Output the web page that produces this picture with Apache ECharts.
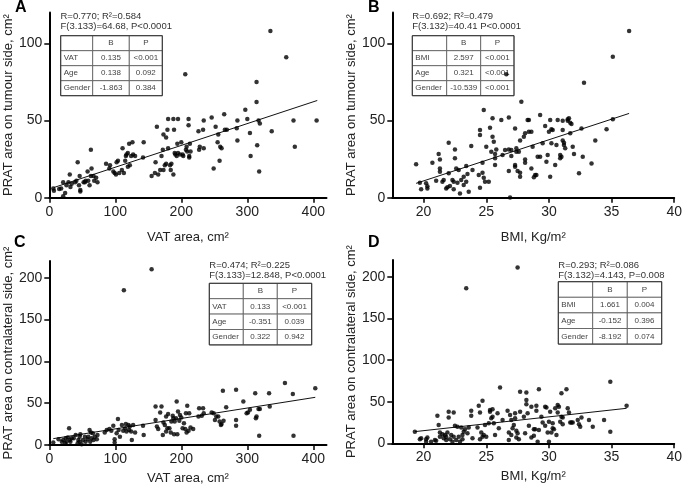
<!DOCTYPE html>
<html>
<head>
<meta charset="utf-8">
<script src="https://cdn.jsdelivr.net/npm/echarts@6/dist/echarts.min.js"></script>
<style>html,body{margin:0;padding:0;background:#fff}#c{width:685px;height:491px}</style>
</head>
<body>
<div id="c"></div>
<script>
// ---------- DATA ----------
const vatTicks = [0, 100, 200, 300, 400];
const bmiTicks = [20, 25, 30, 35, 40];
const yTicksTop = [0, 50, 100];
const yTicksBottom = [0, 50, 100, 150, 200];

// Panel A: VAT area vs PRAT tumour side
const pointsA = [[6,6],[7,4.5],[15,5.6],[18,6],[21,10],[21,1],[24,3],[26,8],[29,10],[31,15],[32,7],[34,9],[39,10],[43,23],[41,11],[45,8],[46,14],[47,5],[47,4],[52,10],[54,10],[55,11],[58,17],[59,11],[61,8],[63,31],[63,14],[64,19],[67,14],[68,11],[73,10],[71,13],[86,22],[92,21],[91,19],[97,17],[99,16],[101,15],[102,23],[104,24],[106,16],[110,18],[111,32],[113,16],[115,24],[116,27],[117,28],[119,29],[119,20],[121,35],[122,21],[124,27],[126,36],[127,28],[130,27],[143,36],[142,26],[155,14],[160,16],[161,23],[163,46],[165,15],[168,18],[170,27],[172,31],[173,41],[173,18],[175,21],[177,22],[177,39],[179,44],[180,51],[180,32],[183,21],[184,18],[185,22],[188,51],[188,15],[189,44],[190,29],[191,28],[193,27],[194,35],[195,51],[195,29],[198,28],[200,36],[202,28],[203,27],[206,80],[207,31],[208,33],[209,30],[211,47],[211,51],[212,27],[212,26],[213,35],[214,30],[226,43],[227,31],[228,33],[233,44],[234,50],[234,32],[246,52],[249,19],[252,46],[255,36],[256,41],[258,24],[259,33],[261,32],[265,54],[266,44],[269,44],[284,45],[285,50],[285,37],[297,57],[300,51],[304,42],[305,27],[314,75],[314,62],[315,34],[317,50],[318,17],[319,48],[335,108],[337,43],[359,91],[370,50],[372,33],[405,50]];
const fitA = [[7, 6.6], [406, 63]];

// Panel B: BMI vs PRAT tumour side
const pointsB = [[19.4,21.6],[19.7,9.7],[19.8,5.4],[20.2,9.3],[20.3,6],[20.3,7.5],[20.7,22.7],[21.0,11],[21.2,28.3],[21.3,19],[21.3,24.8],[21.3,16.8],[21.5,10.4],[21.6,11.4],[21.8,6],[21.9,6.7],[22.0,15.8],[22.0,35.6],[22.1,7.6],[22.3,11.4],[22.4,10.4],[22.4,5.4],[22.5,31.3],[22.5,25.5],[22.6,19],[22.7,9.7],[22.8,18],[22.9,2.8],[23.0,11.4],[23.2,8.2],[23.2,13.6],[23.4,20.5],[23.4,10.4],[23.5,15.3],[23.6,3.9],[23.8,33.5],[23.9,18],[24.4,14.7],[24.5,6.5],[24.5,40.6],[24.5,43.8],[24.7,16.2],[24.7,22.7],[24.8,56.8],[24.8,13],[24.9,10.4],[25.0,33],[25.2,10.4],[25.3,45.4],[25.4,29.8],[25.5,51.4],[25.5,39.5],[25.6,36.3],[25.7,28.3],[25.7,21.2],[25.7,25.5],[25.8,31.3],[26.2,50.3],[26.3,27.6],[26.5,30.9],[26.6,80],[26.8,52],[26.8,17.3],[26.8,31.3],[26.9,0.2],[27.0,27],[27.0,30.9],[27.3,44.9],[27.3,20],[27.3,21.2],[27.4,32],[27.4,29.8],[27.5,17.3],[27.6,29.8],[27.7,16.2],[27.7,13.6],[27.8,62.2],[27.7,37],[28.0,39.5],[28.1,24.8],[28.1,22.7],[28.1,41.7],[28.3,50.3],[28.4,50.3],[28.4,42.8],[28.6,42.8],[28.6,19],[28.7,33],[28.8,13.2],[28.9,14.7],[29.0,14.7],[29.1,26.6],[29.3,26.6],[29.3,53.6],[29.5,35.2],[29.7,46.4],[29.8,23.3],[29.9,27.6],[30.0,42.8],[30.1,13.6],[30.1,50.3],[30.2,44.3],[30.2,35.2],[30.3,43.8],[30.5,21.2],[30.6,34.1],[30.7,50.3],[30.9,27.6],[30.9,25.5],[31.0,26.6],[31.1,49.9],[31.1,43.8],[31.1,37],[31.2,35.6],[31.2,34.1],[31.3,32],[31.5,49.9],[31.5,50.8],[31.6,51.4],[31.7,48.6],[31.7,41.7],[31.8,47.7],[31.9,33],[32.0,28.3],[32.4,15.8],[32.6,44.9],[32.7,26.6],[32.8,74.5],[33.4,22.2],[33.7,37],[34.6,44.3],[35.1,50.8],[35.1,91.4],[36.4,108]];
const fitB = [[19.4, 9.3], [36.4, 54.6]];

// Panel C: VAT area vs PRAT contralateral side
const pointsC = [[6,3],[14,7],[19,4],[21,6],[24,2],[25,8],[26,4],[28,9],[30,20],[31,6],[32,4],[34,8],[37,8],[40,12],[43,2],[44,6],[46,10],[46,4],[47,13],[49,1],[51,6],[54,10],[55,4],[58,7],[59,10],[61,18],[62,4],[63,15],[64,8],[66,14],[67,6],[69,10],[72,7],[73,12],[84,15],[87,18],[91,19],[94,17],[97,23],[99,7],[99,3],[102,14],[104,31],[105,18],[107,10],[110,24],[112,17],[113,185],[115,20],[116,25],[117,16],[120,24],[121,18],[122,22],[124,16],[125,6],[127,24],[130,15],[142,23],[143,12],[155,210],[161,46],[161,30],[163,22],[165,19],[168,39],[170,46],[172,12],[173,27],[175,24],[177,16],[177,34],[179,20],[180,37],[182,20],[184,15],[185,28],[187,35],[188,32],[189,13],[190,28],[192,32],[193,52],[194,13],[195,40],[197,29],[198,36],[200,33],[202,20],[204,26],[206,19],[207,38],[208,15],[209,47],[211,17],[212,38],[214,21],[218,19],[226,34],[227,44],[231,35],[233,44],[234,38],[246,39],[249,38],[251,30],[253,34],[256,34],[258,28],[260,24],[261,25],[263,65],[264,29],[268,45],[283,66],[283,30],[283,23],[294,52],[299,38],[301,39],[304,42],[312,62],[313,32],[314,34],[317,43],[318,11],[319,43],[333,62],[334,46],[357,74],[369,61],[370,11],[403,68]];
const fitC = [[6, 7.6], [403, 57]];

// Panel D: BMI vs PRAT contralateral side
const pointsD = [[19.3,14],[19.7,5],[19.8,6],[20.2,5],[20.2,2],[20.3,7],[20.6,2],[20.9,4],[21.0,3],[21.1,33],[21.2,22],[21.3,13],[21.3,8],[21.5,11],[21.6,6],[21.7,10],[21.8,4],[21.8,8],[21.9,13],[22.0,38],[22.0,31],[22.1,5],[22.2,10],[22.3,2],[22.4,8],[22.4,37],[22.5,21],[22.6,4],[22.7,20],[22.8,8],[22.9,2],[23.0,19],[23.1,10],[23.1,5],[23.2,14],[23.3,17],[23.4,186],[23.5,12],[23.6,19],[23.8,33],[23.8,39],[23.9,6],[24.3,19],[24.4,45],[24.5,5],[24.5,37],[24.6,13],[24.7,8],[24.7,51],[24.8,10],[24.9,22],[25.0,8],[25.2,24],[25.3,38],[25.3,40],[25.4,30],[25.5,41],[25.5,32],[25.6,24],[25.7,10],[25.9,36],[26.0,18],[26.1,67],[26.3,28],[26.7,39],[26.8,4],[26.8,13],[26.9,34],[27.0,10],[27.0,28],[27.1,18],[27.2,22],[27.3,30],[27.3,36],[27.4,15],[27.4,7],[27.5,12],[27.5,211],[27.6,5],[27.7,62],[27.7,38],[28.0,32],[28.1,12],[28.2,47],[28.2,61],[28.2,52],[28.3,36],[28.4,21],[28.6,44],[28.6,7],[28.8,17],[28.8,9],[28.9,17],[29.0,45],[29.0,39],[29.1,2],[29.2,65],[29.2,16],[29.4,32],[29.5,25],[29.7,21],[29.7,44],[29.8,43],[29.9,13],[30.0,2],[30.0,26],[30.1,38],[30.2,13],[30.3,24],[30.3,18],[30.4,17],[30.5,42],[30.6,10],[30.7,46],[30.7,37],[30.8,44],[30.9,26],[31.0,60],[31.0,32],[31.1,23],[31.1,31],[31.4,65],[31.5,42],[31.6,37],[31.7,25],[31.8,25],[31.9,25],[32.3,28],[32.4,23],[32.5,20],[32.6,31],[33.2,28],[33.5,20],[34.4,28],[34.9,74],[34.9,14],[36.2,45]];
const fitD = [[19.3, 14], [36.2, 42]];

// Stats text and tables
const statsA = ['R=0.770; R²=0.584', 'F(3.133)=64.68, P<0.0001'];
const statsB = ['R=0.692; R²=0.479', 'F(3.132)=40.41 P<0.0001'];
const statsC = ['R=0.474; R²=0.225', 'F(3.133)=12.848, P<0.0001'];
const statsD = ['R=0.293; R²=0.086', 'F(3.132)=4.143, P=0.008'];
const tableHeader = ['', 'B', 'P'];
const tableA = [['VAT', '0.135', '<0.001'], ['Age', '0.138', '0.092'], ['Gender', '-1.863', '0.384']];
const tableB = [['BMI', '2.597', '<0.001'], ['Age', '0.321', '<0.001'], ['Gender', '-10.539', '<0.001']];
const tableC = [['VAT', '0.133', '<0.001'], ['Age', '-0.351', '0.039'], ['Gender', '0.322', '0.942']];
const tableD = [['BMI', '1.661', '0.004'], ['Age', '-0.152', '0.396'], ['Gender', '-8.192', '0.074']];
const panelLetters = ['A', 'B', 'C', 'D'];

// ---------- CHART ----------
const FONT = 'Liberation Sans, Arial, Helvetica, sans-serif';
const chart = echarts.init(document.getElementById('c'), null, {renderer: 'canvas'});

function xAxis(gi, min, max, ticks, name, gap) {
  return {
    type: 'value', gridIndex: gi, min: min, max: max,
    name: name, nameLocation: 'middle', nameGap: gap,
    nameTextStyle: {fontSize: 13, color: '#222', fontFamily: FONT},
    axisLine: {show: true, onZero: false, lineStyle: {color: '#000', width: 2}},
    axisTick: {show: true, length: 5, customValues: ticks, lineStyle: {color: '#000', width: 1.5}},
    axisLabel: {fontSize: 14, color: '#222', margin: 7, fontFamily: FONT, customValues: ticks},
    splitLine: {show: false}
  };
}
function yAxis(gi, max, ticks, name, gap) {
  return {
    type: 'value', gridIndex: gi, min: 0, max: max,
    name: name, nameLocation: 'middle', nameGap: gap,
    nameTextStyle: {fontSize: 13, color: '#222', fontFamily: FONT},
    axisLine: {show: true, onZero: false, lineStyle: {color: '#000', width: 2}},
    axisTick: {show: true, length: 5, customValues: ticks, lineStyle: {color: '#000', width: 1.5}},
    axisLabel: {fontSize: 14, color: '#222', margin: 7, fontFamily: FONT, customValues: ticks},
    splitLine: {show: false}
  };
}

const grids = [
  {left: 49.3, top: 12.5, width: 277.2, height: 185.2},
  {left: 392.3, top: 12.5, width: 285.3, height: 185.2},
  {left: 49.3, top: 261, width: 277.2, height: 184},
  {left: 392.3, top: 260, width: 285.3, height: 183.3}
];

const allPoints = [pointsA, pointsB, pointsC, pointsD];
const allFits = [fitA, fitB, fitC, fitD];
const series = [];
allPoints.forEach(function (pts, i) {
  series.push({
    type: 'line', xAxisIndex: i, yAxisIndex: i, data: allFits[i], symbol: 'none',
    lineStyle: {color: '#111', width: 1}, z: 3, silent: true
  });
  series.push({
    type: 'scatter', xAxisIndex: i, yAxisIndex: i, data: pts, symbolSize: 4.5,
    itemStyle: {color: '#000'}, z: 5
  });
});

// graphic elements: panel letters, stats text, tables
const graphics = [];
const letterPos = [[15, 7.5], [368, 7.5], [14, 243], [368, 243]];
panelLetters.forEach(function (L, i) {
  graphics.push({type: 'text', z: 10, style: {text: L, x: letterPos[i][0], y: letterPos[i][1],
    fontSize: 16, fontWeight: 'bold', fontFamily: FONT, fill: '#000', align: 'left', verticalAlign: 'middle'}});
});

function addStats(lines, x, y0) {
  lines.forEach(function (t, k) {
    graphics.push({type: 'text', z: 10, style: {text: t, x: x, y: y0 + k * 10,
      fontSize: 9.5, fontFamily: FONT, fill: '#333', align: 'left', verticalAlign: 'middle'}});
  });
}
function addTable(rows, x0, y0, colW, rowH) {
  const all = [tableHeader].concat(rows);
  all.forEach(function (row, r) {
    let cx = x0;
    row.forEach(function (cell, c) {
      graphics.push({type: 'rect', z: 1, shape: {x: cx, y: y0 + r * rowH, width: colW[c], height: rowH},
        style: {fill: '#fff', stroke: '#555', lineWidth: 0.8}});
      if (cell !== '') {
        graphics.push({type: 'text', z: 2, style: {text: cell,
          x: c === 0 ? cx + 3 : cx + colW[c] / 2, y: y0 + r * rowH + rowH / 2,
          fontSize: 8, fontFamily: FONT, fill: '#444', align: c === 0 ? 'left' : 'center', verticalAlign: 'middle'}});
      }
      cx += colW[c];
    });
  });
  graphics.push({type: 'rect', z: 2, shape: {x: x0, y: y0, width: colW[0] + colW[1] + colW[2], height: rowH * all.length},
    style: {fill: 'none', stroke: '#333', lineWidth: 1}});
}

addStats(statsA, 60.5, 16.7);
addTable(tableA, 60.7, 35.7, [32, 36.6, 33], 15);
addStats(statsB, 412.3, 16.7);
addTable(tableB, 412.3, 35.7, [34.4, 34, 33.3], 15);
addStats(statsC, 209.3, 265);
addTable(tableC, 209.3, 283.3, [34, 34, 34.4], 15.4);
addStats(statsD, 558.3, 265);
addTable(tableD, 558.3, 281.7, [34.4, 34.6, 34.4], 15.6);

chart.setOption({
  animation: false,
  backgroundColor: '#fff',
  grid: grids,
  xAxis: [
    xAxis(0, 0, 420, vatTicks, 'VAT area, cm²', 33),
    xAxis(1, 17.5, 40, bmiTicks, 'BMI, Kg/m²', 33),
    xAxis(2, 0, 420, vatTicks, 'VAT area, cm²', 27),
    xAxis(3, 17.5, 40, bmiTicks, 'BMI, Kg/m²', 27)
  ],
  yAxis: [
    yAxis(0, 120, yTicksTop, 'PRAT area on tumour side, cm²', 30),
    yAxis(1, 120, yTicksTop, 'PRAT area on tumour side, cm²', 32),
    yAxis(2, 220, yTicksBottom, 'PRAT area on contralateral side, cm²', 31),
    yAxis(3, 220, yTicksBottom, 'PRAT area on contralateral side, cm²', 32)
  ],
  series: series,
  graphic: {elements: graphics}
});
</script>
</body>
</html>
